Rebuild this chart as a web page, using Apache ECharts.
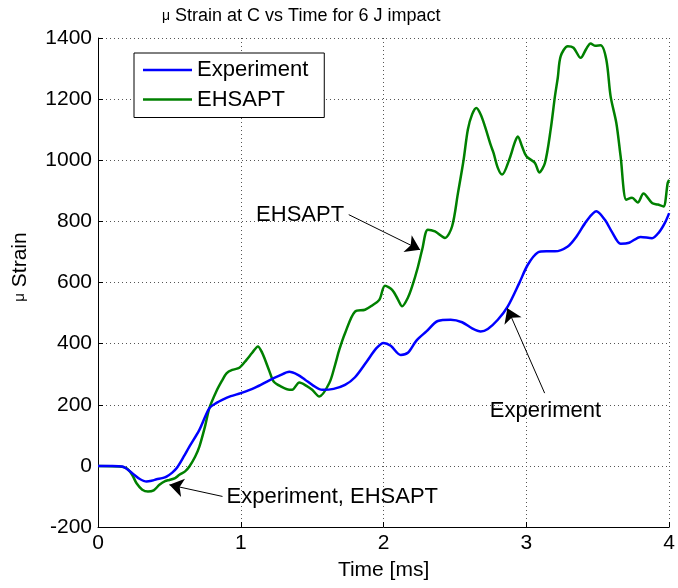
<!DOCTYPE html>
<html>
<head>
<meta charset="utf-8">
<script src="https://cdn.jsdelivr.net/npm/echarts@6/dist/echarts.min.js"></script>
<style>
html,body{margin:0;padding:0;background:#fff;}
#chart{width:678px;height:588px;}
</style>
</head>
<body>
<div id="chart"></div>
<script>
// ---- data ----
const timeExp = [0,0.1,0.17,0.24,0.29,0.34,0.38,0.41,0.45,0.48,0.52,0.55,0.60,0.64,0.71,0.78,0.83,0.87,0.93,1.0,1.1,1.2,1.27,1.34,1.40,1.45,1.51,1.57,1.65,1.73,1.80,1.88,1.95,2.0,2.05,2.12,2.17,2.23,2.30,2.38,2.47,2.55,2.62,2.68,2.73,2.8,2.87,2.95,3.01,3.08,3.14,3.20,3.29,3.35,3.42,3.49,3.55,3.60,3.66,3.72,3.80,3.88,3.93,3.97,4.0];
const strainExp = [0,0,-2,-24,-42,-51,-48,-44,-40,-35,-22,-8,30,63,118,189,206,216,228,238,256,280,295,308,298,282,262,249,252,265,290,340,385,402,393,363,370,410,440,474,478,470,450,440,448,478,522,598,658,698,702,702,718,750,800,833,805,765,727,730,749,745,765,795,827];

const timeEhs = [0,0.15,0.20,0.24,0.27,0.31,0.35,0.39,0.43,0.47,0.50,0.54,0.57,0.61,0.64,0.68,0.71,0.75,0.78,0.83,0.87,0.90,0.94,0.99,1.04,1.08,1.12,1.15,1.17,1.20,1.23,1.28,1.34,1.36,1.41,1.46,1.50,1.55,1.62,1.66,1.69,1.73,1.80,1.87,1.92,1.97,2.01,2.06,2.10,2.13,2.17,2.20,2.24,2.27,2.31,2.36,2.43,2.48,2.52,2.56,2.59,2.62,2.65,2.68,2.71,2.75,2.77,2.80,2.83,2.88,2.92,2.94,2.97,3.0,3.06,3.09,3.13,3.17,3.20,3.22,3.24,3.29,3.33,3.38,3.42,3.45,3.48,3.52,3.56,3.59,3.63,3.66,3.70,3.74,3.78,3.82,3.88,3.92,3.96,3.99,4.0];
const strainEhs = [0,-2,-8,-30,-57,-78,-84,-80,-62,-50,-46,-40,-29,-18,-2,30,63,130,189,245,280,303,314,321,347,370,391,370,347,310,276,260,249,249,273,262,249,227,271,330,380,434,505,511,525,543,589,576,545,522,550,587,650,707,773,767,746,784,890,1000,1100,1150,1171,1150,1111,1050,1024,975,953,1002,1060,1078,1045,1013,991,960,991,1100,1209,1270,1340,1373,1368,1335,1365,1382,1375,1376,1329,1209,1122,1013,871,877,862,891,860,855,849,926,936];

const seriesNames = ['Experiment','EHSAPT'];
const xTicks = [0,1,2,3,4];
const yTicks = [-200,0,200,400,600,800,1000,1200,1400];
const titleText = 'Strain at C vs Time for 6 J impact';
const xName = 'Time [ms]';
const yName = 'Strain';

// annotations in data coordinates: text anchor (left, middle), arrow start, arrow tip
const annoTexts = ['EHSAPT','Experiment','Experiment, EHSAPT'];
const annoTextPos = [[1.107,822],[2.744,180],[0.90,-103]];
const annoArrowFrom = [[1.756,822],[3.128,238],[0.872,-100]];
const annoArrowTo = [[2.256,707],[2.867,516],[0.50,-62]];

const FONT = '"Liberation Sans", Arial, Helvetica, sans-serif';

const zip = (a,b) => a.map((t,i)=>[t,b[i]]);

const chart = echarts.init(document.getElementById('chart'), null, {renderer:'canvas'});

const gridLine = {show:true, lineStyle:{color:'#555', width:1, type:[1,3]}};

const option = {
  backgroundColor:'#fff',
  animation:false,
  title:{
    text:'{mu|\u03bc} ' + titleText,
    left:157, top:2,
    textStyle:{fontFamily:FONT, fontSize:18, fontWeight:'normal', color:'#000',
      rich:{mu:{fontFamily:FONT, fontSize:14, color:'#000'}}}
  },
  legend:{
    orient:'vertical',
    left:134, top:53,
    padding:[6,16,7,9],
    itemGap:7.5,
    itemWidth:49, itemHeight:2.5,
    icon:'rect',
    borderColor:'#000', borderWidth:1,
    backgroundColor:'#fff',
    textStyle:{fontFamily:FONT, fontSize:22, color:'#000'},
    data:seriesNames
  },
  grid:{left:98, right:6, top:38, bottom:61, containLabel:false},
  xAxis:{
    type:'value', min:xTicks[0], max:xTicks[xTicks.length-1], interval:1,
    axisLine:{show:true, onZero:false, lineStyle:{color:'#000', width:1}},
    axisTick:{show:true, inside:true, length:5, lineStyle:{color:'#000'}},
    axisLabel:{color:'#000', fontFamily:FONT, fontSize:21, margin:6, formatter:(v)=>String(v)},
    splitLine:gridLine
  },
  yAxis:{
    type:'value', min:yTicks[0], max:yTicks[yTicks.length-1], interval:200,
    axisLine:{show:true, onZero:false, lineStyle:{color:'#000', width:1}},
    axisTick:{show:true, inside:true, length:5, lineStyle:{color:'#000'}},
    axisLabel:{color:'#000', fontFamily:FONT, fontSize:21, margin:6, formatter:(v)=>String(v)},
    splitLine:gridLine
  },
  series:[
    {name:seriesNames[0], type:'line', data:zip(timeExp,strainExp), showSymbol:false, symbol:'none',
     smooth:0.3, lineStyle:{color:'#0000ff', width:2.5}, itemStyle:{color:'#0000ff'}, z:3},
    {name:seriesNames[1], type:'line', data:zip(timeEhs,strainEhs), showSymbol:false, symbol:'none',
     smooth:0.3, lineStyle:{color:'#008000', width:2.5}, itemStyle:{color:'#008000'}, z:2,
     markLine:{
       silent:true, symbol:['none','arrow'], symbolSize:14,
       lineStyle:{color:'#000', width:1, type:'solid'},
       itemStyle:{color:'#000'},
       label:{show:false},
       emphasis:{disabled:true},
       data: annoArrowFrom.map((f,i)=>[{coord:f, symbol:'none'},{coord:annoArrowTo[i], symbol:'arrow', symbolSize:14, itemStyle:{color:'#000'}}])
     }}
  ]
};
chart.setOption(option);

const graphics = annoTexts.map((txt,i)=>{
  const p = chart.convertToPixel({gridIndex:0}, annoTextPos[i]);
  return {type:'text', x:p[0], y:p[1], z:10,
    style:{text:txt, fill:'#000', font:'22px ' + FONT, textAlign:'left', textVerticalAlign:'middle'}};
});
// axis names
const xc = chart.convertToPixel({gridIndex:0}, [2, -200]);
graphics.push({type:'text', x:xc[0], y:570, z:10,
  style:{text:xName, fill:'#000', font:'21px ' + FONT, textAlign:'center', textVerticalAlign:'middle'}});
graphics.push({type:'text', x:20, y:267, rotation:Math.PI/2, z:10,
  style:{text:'{mu|\u03bc} ' + yName, fill:'#000', font:'21px ' + FONT, textAlign:'center', textVerticalAlign:'middle',
    rich:{mu:{font:'15px ' + FONT, fill:'#000'}}}});
chart.setOption({graphic:graphics});
</script>
</body>
</html>
